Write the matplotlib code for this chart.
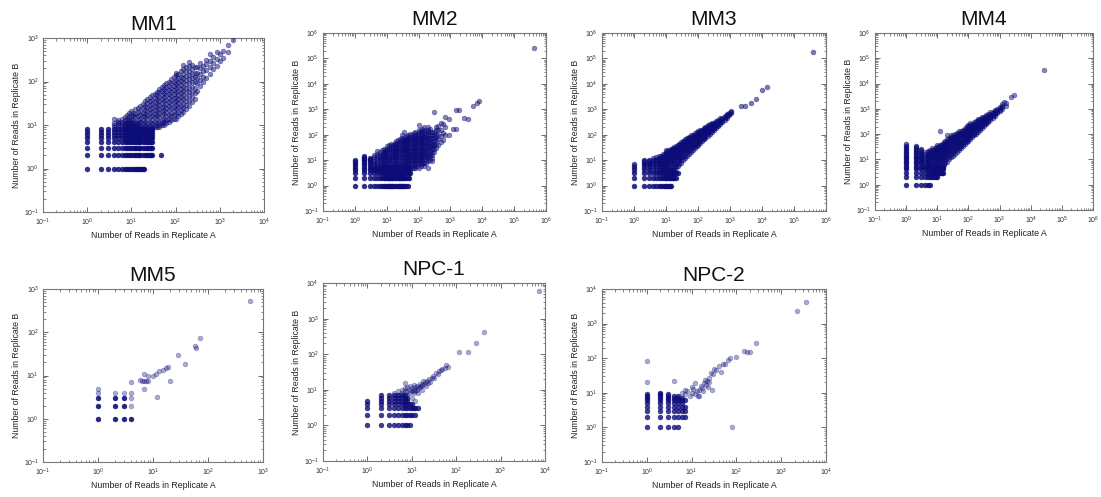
import numpy as np
import matplotlib
matplotlib.use("Agg")
import matplotlib.pyplot as plt
from matplotlib.ticker import LogLocator, NullFormatter

plt.rcParams['font.family'] = ['Liberation Sans', 'DejaVu Sans']
plt.rcParams['mathtext.default'] = 'regular'

# ---------------- data ----------------
panel_titles = ["MM1", "MM2", "MM3", "MM4", "MM5", "NPC-1", "NPC-2"]
panel_xlim_exp = [(-1, 4), (-1, 6), (-1, 6), (-1, 6), (-1, 3), (-1, 4), (-1, 4)]
panel_ylim_exp = [(-1, 3), (-1, 6), (-1, 6), (-1, 6), (-1, 3), (-1, 4), (-1, 4)]

# ---- MM1 ----
MM1_row_y = [1, 2, 3, 4, 5, 6, 7, 8]
MM1_row_x = [
    [1, 2, 3, 4, 5, 6, 7, 8, 9, 10, 11, 12, 13, 14, 15, 16, 17, 18, 19],
    [1, 2, 3, 4, 5, 6, 7, 8, 9, 10, 11, 12, 13, 14, 15, 16, 18, 20, 22, 24, 26, 28, 30, 46],
    [1, 2, 3, 4, 5, 6, 7, 8, 9, 10, 11, 12, 13, 14, 15, 16, 18, 20, 22, 24, 26, 28, 30],
    [1, 2, 3, 4, 5, 6, 7, 8, 9, 10, 11, 12, 13, 14, 15, 16, 18, 20, 22, 24, 26, 28, 30],
    [1, 2, 3, 4, 5, 6, 7, 8, 9, 10, 11, 12, 13, 14, 15, 16, 18, 20, 22, 24, 26, 28, 30],
    [1, 2, 3, 4, 5, 6, 7, 8, 9, 10, 11, 12, 13, 14, 15, 16, 18, 20, 22, 24, 26, 28, 30],
    [1, 2, 3, 4, 5, 6, 7, 8, 9, 10, 11, 12, 13, 14, 15, 16, 18, 20, 22, 24, 26, 28, 30],
    [1, 2, 3, 4, 5, 6, 7, 8, 9, 10, 11, 12, 13, 14, 15, 16, 18, 20, 22, 24, 26, 28, 30],
]
MM1_cloud_x = [4, 5, 6, 7, 8, 9, 10, 11, 12, 14, 16, 18, 20, 23, 26, 30, 34, 38, 43, 48,
               55, 62, 70, 80, 90, 100, 115, 130, 150, 170, 200, 230, 270, 310, 360, 420,
               500, 600, 700, 850, 1000, 1200, 1500, 2000]
MM1_cloud_y = [
    [9, 10, 11, 14], [9, 10, 11, 12, 13], [9, 10, 11, 12, 14], [9, 10, 11, 13, 15], [9, 10, 11, 12, 14, 17],
    [9, 10, 11, 13, 15, 19], [9, 10, 11, 12, 14, 17, 21], [9, 10, 11, 13, 16, 19], [9, 10, 11, 12, 15, 18, 23],
    [9, 10, 11, 13, 16, 20, 25], [9, 10, 12, 14, 17, 21, 28], [9, 11, 13, 16, 19, 24, 31],
    [9, 10, 12, 15, 18, 22, 27, 35], [9, 11, 14, 17, 21, 26, 32, 40],
    [9, 10, 12, 15, 19, 23, 29, 36, 44], [9, 11, 13, 16, 20, 25, 31, 38, 48],
    [9, 10, 12, 15, 18, 22, 27, 34, 42, 52], [9, 11, 14, 17, 21, 26, 32, 40, 50, 58],
    [9, 10, 12, 15, 19, 23, 29, 36, 45, 56, 66], [10, 11, 13, 17, 21, 26, 32, 40, 50, 62, 75],
    [10, 12, 14, 18, 22, 28, 35, 44, 55, 68, 82], [11, 13, 16, 20, 25, 31, 38, 48, 60, 74, 92],
    [12, 14, 17, 22, 27, 34, 42, 52, 65, 80, 100], [13, 16, 19, 24, 30, 37, 46, 58, 72, 90, 112],
    [14, 17, 21, 26, 33, 41, 51, 64, 80, 100, 125],
    [14, 18, 23, 29, 36, 45, 56, 70, 88, 110, 140, 160],
    [16, 20, 26, 32, 40, 50, 62, 78, 97, 120, 150],
    [18, 22, 28, 35, 44, 55, 68, 85, 105, 130, 170],
    [20, 25, 31, 39, 49, 61, 76, 95, 118, 148, 190, 240],
    [23, 29, 36, 45, 56, 70, 88, 110, 136, 170, 215],
    [28, 36, 46, 58, 72, 90, 112, 140, 175, 230, 280],
    [33, 45, 58, 75, 95, 120, 150, 195, 240],
    [40, 55, 72, 95, 125, 160, 210],
    [60, 90, 120, 160, 210], [80, 110, 150, 200, 260], [95, 130, 170, 230],
    [120, 180, 250, 320], [150, 220, 300, 440], [190, 260, 360], [230, 330, 480],
    [300, 420], [350, 500], [470, 700], [900],
]

# ---- MM2 ----
MM2_row_y = [1, 2, 3, 4, 5]
MM2_row_x = [
    [1, 2, 3, 4, 5, 6, 7, 8, 9, 10, 11, 12, 13, 14, 15, 16, 18, 20, 22, 24, 26, 28, 30, 33, 36, 40, 45],
    [1, 2, 3, 4, 5, 6, 7, 8, 9, 10, 11, 12, 13, 14, 15, 16, 18, 20, 22, 24, 26, 28, 30, 33, 36, 40, 45, 50],
    [1, 2, 3, 4, 5, 6, 7, 8, 9, 10, 11, 12, 13, 14, 15, 16, 18, 20, 22, 24, 26, 28, 30, 33, 36, 40, 45, 50, 55],
    [1, 2, 3, 4, 5, 6, 7, 8, 9, 10, 11, 12, 13, 14, 15, 16, 18, 20, 22, 24, 26, 28, 30, 33, 36, 40, 45, 50],
    [1, 2, 3, 4, 5, 6, 7, 8, 9, 10, 11, 12, 13, 14, 15, 16, 18, 20, 22, 24, 26, 28, 30, 33, 36, 40, 45, 50],
]
MM2_col_x = [1, 2, 3]
MM2_col_y = [[6, 7, 8, 9, 10], [6, 7, 8, 9, 10, 11, 12, 13, 15], [6, 7, 8, 9, 10, 11, 12]]
MM2_cloud_x = [4, 5, 6, 7, 8, 9, 10, 12, 14, 16, 18, 20, 23, 26, 30, 34, 38, 43, 48, 55, 62,
               70, 80, 90, 100, 115, 130, 150, 170, 200, 230, 270, 300, 350, 400, 500, 600,
               700, 900, 1200, 1500, 1900, 2600, 3500, 5000, 7000, 8000, 430000]
MM2_cloud_y = [
    [6, 7, 8, 9, 11, 13, 16], [6, 7, 8, 10, 12, 14, 18, 22], [6, 7, 9, 11, 13, 16, 20],
    [6, 8, 10, 12, 15, 18, 24], [6, 7, 9, 11, 14, 17, 21, 28], [6, 8, 10, 13, 16, 20, 25],
    [6, 7, 9, 11, 14, 17, 22, 28, 35], [6, 8, 10, 12, 15, 19, 24, 30, 38],
    [6, 7, 9, 11, 14, 18, 22, 28, 35, 44], [6, 8, 10, 13, 16, 20, 25, 32, 40],
    [6, 7, 9, 12, 15, 19, 24, 30, 38, 48], [6, 8, 10, 13, 17, 21, 26, 33, 42, 55],
    [6, 7, 9, 12, 15, 19, 24, 30, 38, 48, 60], [6, 8, 10, 13, 17, 21, 27, 34, 43, 55, 70],
    [6, 7, 9, 12, 15, 19, 24, 30, 38, 48, 60, 75, 95],
    [6, 8, 10, 13, 17, 22, 28, 35, 44, 56, 70, 130],
    [6, 7, 9, 12, 15, 19, 24, 31, 39, 50, 63, 80],
    [6, 8, 10, 13, 17, 21, 27, 34, 43, 55, 70, 88],
    [6, 7, 9, 11, 14, 18, 23, 29, 37, 47, 60, 76, 100],
    [4, 6, 8, 10, 13, 16, 20, 26, 33, 42, 53, 67, 85, 110],
    [5, 7, 9, 11, 14, 18, 23, 29, 37, 47, 60, 76, 96],
    [5, 6, 8, 10, 13, 16, 21, 26, 33, 42, 54, 68, 86, 120],
    [5, 7, 9, 12, 15, 19, 24, 30, 38, 48, 61, 77, 98, 130],
    [6, 8, 10, 13, 16, 21, 26, 33, 42, 53, 67, 85, 110],
    [5, 7, 9, 11, 14, 18, 23, 29, 37, 47, 60, 76, 96, 125, 160, 250],
    [6, 8, 10, 13, 16, 20, 26, 33, 42, 53, 67, 85, 110, 140],
    [7, 9, 12, 15, 19, 24, 30, 38, 48, 61, 77, 98, 125, 170],
    [6, 8, 11, 14, 17, 22, 28, 35, 44, 56, 71, 90, 115, 150, 200],
    [8, 10, 13, 16, 20, 26, 33, 42, 53, 67, 85, 110, 140],
    [5, 9, 12, 15, 19, 24, 30, 38, 48, 61, 77, 98, 125, 160, 200],
    [10, 14, 18, 23, 29, 37, 47, 60, 76, 96, 125, 170],
    [9, 12, 16, 21, 27, 35, 45, 58, 75, 95, 125],
    [20, 27, 35, 45, 58, 75, 95, 125, 750],
    [30, 45, 60, 80, 110, 150, 200], [40, 70, 100, 150, 220], [50, 90, 150, 300],
    [60, 120, 270], [95, 200, 500], [95, 400], [170], [170, 900], [900], [470], [400],
    [1350], [1800], [2100], [250000],
]

# ---- MM3 ----
MM3_row_y = [1, 2, 3]
MM3_row_x = [
    [1, 2, 3, 4, 5, 6, 7, 8, 9, 10, 11, 12, 13, 14],
    [1, 2, 3, 4, 5, 6, 7, 8, 9, 10, 11, 12, 13, 14, 15, 16, 18, 20],
    [1, 2, 3, 4, 5, 6, 7, 8, 9, 10, 11, 12, 13, 14, 15, 16, 18, 20, 23],
]
MM3_col_x = [1, 2, 3]
MM3_col_y = [[4, 5, 6, 7], [4, 5, 6, 7, 8, 9, 10], [4, 5, 6, 7, 8, 9, 10]]
MM3_cloud_x = [4, 5, 6, 7, 8, 9, 10, 11, 12, 14, 16, 18, 20, 23, 26, 30, 35, 40, 46, 53, 60,
               70, 80, 90, 100, 115, 130, 150, 170, 200, 230, 270, 310, 360, 420, 500, 580,
               680, 800, 950, 1100, 2200, 3000, 4500, 6500, 10000, 14000, 390000]
MM3_cloud_y = [
    [4, 5, 6, 7, 8, 9, 10, 12], [4, 5, 6, 7, 8, 9, 10, 11, 13], [4, 5, 6, 7, 8, 9, 10, 12, 14],
    [4, 5, 6, 7, 8, 9, 11, 13, 15], [4, 5, 6, 7, 8, 10, 12, 14, 17], [4, 5, 6, 7, 9, 11, 13, 15, 18],
    [4, 5, 6, 8, 10, 12, 14, 17, 20, 24], [4, 5, 7, 9, 11, 13, 16, 19, 22],
    [4, 5, 6, 8, 10, 12, 15, 18, 21, 25], [4, 5, 7, 9, 11, 14, 17, 20, 24, 28],
    [4, 6, 8, 10, 13, 16, 19, 23, 27, 31], [4, 5, 7, 9, 12, 15, 18, 22, 26, 32],
    [5, 6, 8, 11, 14, 17, 21, 25, 30, 36], [6, 8, 10, 13, 16, 20, 24, 29, 34, 40],
    [7, 9, 12, 15, 19, 23, 28, 33, 38, 45], [8, 10, 13, 17, 21, 26, 31, 37, 43, 50],
    [10, 13, 16, 20, 25, 30, 36, 43, 50, 58], [12, 15, 19, 24, 29, 35, 42, 49, 57, 66],
    [15, 19, 23, 28, 34, 40, 48, 56, 65, 75], [18, 22, 27, 33, 40, 47, 55, 64, 74, 85],
    [21, 26, 32, 38, 46, 54, 63, 73, 84, 96], [26, 32, 39, 46, 55, 65, 75, 87, 100],
    [30, 37, 45, 53, 63, 74, 86, 99, 113], [35, 42, 50, 60, 71, 83, 96, 110, 125],
    [40, 47, 56, 67, 79, 92, 106, 121, 140], [47, 56, 66, 78, 91, 106, 122, 140, 160],
    [55, 65, 77, 90, 105, 121, 140, 160], [65, 77, 90, 105, 122, 140, 160, 185],
    [76, 89, 104, 121, 140, 161, 185, 210], [92, 107, 125, 145, 168, 193, 220, 250],
    [110, 127, 147, 170, 195, 222, 255], [130, 150, 173, 200, 228, 260, 295],
    [155, 178, 204, 233, 265, 300], [185, 212, 242, 275, 310, 350], [220, 250, 284, 322, 365],
    [270, 305, 345, 390, 440], [320, 360, 405, 455], [390, 435, 490, 550], [470, 530, 600, 660],
    [580, 650, 730], [700, 760, 820], [1300], [1350], [1700], [2500], [5500], [7400], [180000],
]

# ---- MM4 ----
MM4_row_y = [1, 2, 3, 4, 5]
MM4_row_x = [
    [1, 2, 3, 4, 5, 6],
    [1, 2, 3, 4, 5, 6, 7, 8, 9, 10],
    [1, 2, 3, 4, 5, 6, 7, 8, 9, 10, 11, 12, 13, 14, 15],
    [1, 2, 3, 4, 5, 6, 7, 8, 9, 10, 11, 12, 13, 14, 15],
    [1, 2, 3, 4, 5, 6, 7, 8, 9, 10, 11, 12, 13, 14, 15],
]
MM4_col_x = [1, 2, 3]
MM4_col_y = [[6, 7, 8, 9, 10, 11, 12, 14, 16, 18, 20, 23, 26, 30, 35, 40],
             [6, 7, 8, 9, 10, 11, 12, 14, 16, 18, 20, 23, 26, 30, 33],
             [6, 7, 8, 9, 10, 11, 12, 14, 16, 18, 20, 23, 25]]
MM4_cloud_x = [4, 5, 6, 7, 8, 9, 10, 11, 12, 14, 16, 18, 21, 24, 28, 32, 37, 43, 50, 58, 67,
               77, 90, 100, 115, 130, 150, 170, 200, 230, 270, 310, 360, 420, 500, 600, 700,
               850, 1000, 1200, 1400, 1600, 2300, 3000, 27000]
MM4_cloud_y = [
    [6, 7, 8, 9, 10, 12, 14, 17, 20], [6, 7, 8, 9, 10, 12, 14, 16, 19, 22],
    [6, 7, 8, 10, 12, 14, 16, 19, 23], [6, 8, 10, 12, 14, 17, 20, 24, 28],
    [6, 7, 9, 11, 13, 16, 19, 23, 27], [4, 5, 6, 8, 10, 12, 15, 18, 21, 25, 30],
    [3, 4, 6, 8, 10, 12, 15, 18, 22, 26, 31, 36], [4, 5, 7, 9, 11, 14, 17, 20, 24, 29, 34],
    [4, 6, 8, 10, 12, 15, 18, 22, 26, 31, 37, 135], [5, 7, 9, 11, 14, 17, 21, 25, 30, 36, 42],
    [6, 8, 10, 13, 16, 20, 24, 29, 35, 42, 50], [7, 9, 12, 15, 18, 22, 27, 32, 38, 46, 55],
    [8, 11, 14, 17, 21, 26, 31, 37, 44, 53, 62, 95], [10, 13, 16, 20, 24, 29, 35, 42, 50, 60, 70],
    [12, 15, 19, 23, 28, 34, 40, 48, 57, 68, 80, 90], [14, 18, 22, 27, 32, 39, 46, 55, 65, 77, 90],
    [17, 21, 26, 31, 38, 45, 53, 63, 74, 87, 100], [20, 25, 30, 36, 43, 51, 61, 72, 85, 100, 115],
    [24, 29, 35, 42, 50, 60, 71, 84, 99, 115, 130], [29, 35, 42, 50, 59, 70, 83, 97, 114, 133],
    [35, 42, 50, 59, 70, 82, 96, 112, 130, 152], [42, 50, 59, 70, 82, 96, 112, 131, 152, 175],
    [50, 59, 70, 82, 96, 112, 131, 152, 177, 205], [56, 66, 78, 92, 108, 126, 147, 171, 198, 230],
    [66, 78, 92, 108, 126, 147, 171, 198, 230, 265], [77, 90, 105, 123, 144, 167, 194, 225, 260],
    [90, 105, 123, 144, 168, 195, 226, 262, 300], [104, 121, 141, 164, 191, 221, 256, 296, 345],
    [125, 146, 170, 197, 228, 264, 305, 352, 400], [148, 172, 199, 230, 266, 307, 354, 410],
    [178, 206, 238, 275, 317, 365, 420, 480], [210, 242, 279, 321, 369, 424, 490],
    [250, 288, 331, 380, 436, 500, 570], [300, 345, 396, 453, 520, 600],
    [365, 418, 478, 547, 625, 720], [450, 515, 588, 670, 765], [540, 615, 700, 800, 900],
    [680, 780, 890, 1000], [820, 940, 1070, 1200], [1000, 1150, 1300, 1500], [1800],
    [1300, 1700], [2900], [3400], [33000],
]

# ---- MM5 ----
MM5_dark_x = [1, 1, 1, 2, 2, 2, 3, 3, 3, 4]
MM5_dark_y = [1, 2, 3, 1, 2, 3, 1, 2, 3, 1]
MM5_light_x = [1, 1, 2, 3, 4, 4, 4, 4, 5.7, 6.2, 6.8, 7.5, 8.1, 6.8, 6.8, 8.1, 10, 11.5, 13, 15,
               17.5, 18.7, 20.6, 11.8, 29, 38, 57, 61, 73, 570]
MM5_light_y = [4, 5, 4, 4, 2, 3, 4, 7, 7.9, 7.5, 7.4, 7.6, 7.3, 11, 5, 9.5, 9.5, 11, 12.5, 13.7,
               14.7, 15.5, 7.5, 3.2, 30, 18.6, 49, 44, 74, 520]

# ---- NPC-1 ----
NPC1_row_y = [1, 2, 3, 4, 5, 6, 7]
NPC1_row_x = [
    [1, 2, 3, 4, 5, 6, 7, 8, 9],
    [1, 2, 3, 4, 5, 6, 7, 8, 9, 10, 12],
    [1, 2, 3, 4, 5, 6, 7, 8, 9, 10, 11, 12, 14],
    [1, 2, 3, 4, 5, 6, 7, 8, 9, 10],
    [1, 2, 3, 4, 5, 6, 7, 8],
    [2, 3, 4, 5, 6, 7, 8],
    [2, 3, 4, 5, 6, 7],
]
NPC1_cloud_x = [4, 5, 5, 6, 6, 7, 7, 7, 8, 8, 8, 9, 9, 9, 10, 10, 10, 11, 11, 11, 12, 12, 12,
                13, 13, 14, 14, 15, 15, 16, 17, 17, 18, 19, 20, 21, 22, 23, 25, 26, 28, 30,
                32, 35, 38, 40, 45, 48, 55, 60, 65, 115, 180, 280, 430, 7500]
NPC1_cloud_y = [8, 7, 9, 8, 10, 9, 11, 16, 7, 9, 12, 8, 10, 13, 6, 9, 11, 8, 10, 14, 9, 12, 5,
                10, 13, 11, 8, 15, 12, 13, 10, 14, 18, 15, 17, 13, 18, 16, 20, 17, 22, 25,
                22, 30, 27, 33, 35, 38, 40, 50, 45, 115, 115, 210, 410, 6000]

# ---- NPC-2 ----
NPC2_row_y = [1, 2, 3, 4, 5, 6, 7, 8, 9, 10]
NPC2_row_x = [
    [1, 2, 3, 4, 5],
    [1, 2, 3, 4, 5, 6, 7],
    [1, 2, 3, 4, 5, 6, 7],
    [1, 2, 3, 4, 5, 6, 7],
    [1, 2, 3, 4, 5, 6],
    [1, 2, 3, 4, 5, 6, 7],
    [1, 2, 3, 4, 5, 6],
    [1, 2, 3, 4, 5],
    [1, 2, 3],
    [2],
]
NPC2_cloud_x = [1, 1, 4, 6, 7, 7, 8, 9, 10, 10, 11, 12, 12, 13, 14, 15, 15, 16, 17, 18, 19, 20,
                21, 22, 23, 24, 25, 27, 28, 30, 32, 35, 40, 45, 50, 55, 65, 72, 80, 100, 150,
                170, 200, 270, 2200, 3500]
NPC2_cloud_y = [20, 85, 22, 10, 12, 9, 11, 8, 15, 10, 13, 19, 9, 11, 8, 12, 8, 16, 14, 11, 19,
                24, 17, 22, 15, 20, 27, 38, 12, 36, 50, 45, 60, 40, 70, 68, 90, 100, 1, 110, 160,
                155, 150, 280, 2300, 4300]

# ---------------- helpers ----------------
def expand_rows(row_y, row_x):
    xs, ys = [], []
    for y, xl in zip(row_y, row_x):
        xs += list(xl)
        ys += [y] * len(xl)
    return xs, ys

def expand_cols(col_x, col_y):
    xs, ys = [], []
    for x, yl in zip(col_x, col_y):
        xs += [x] * len(yl)
        ys += list(yl)
    return xs, ys

NAVY = '#0c0c78'

def style_axes(ax, title, xl, yl):
    ax.set_xscale('log')
    ax.set_yscale('log')
    ax.set_xlim(10.0 ** xl[0], 10.0 ** xl[1])
    ax.set_ylim(10.0 ** yl[0], 10.0 ** yl[1])
    for axis in (ax.xaxis, ax.yaxis):
        axis.set_major_locator(LogLocator(base=10, numticks=20))
        axis.set_minor_locator(LogLocator(base=10, subs=np.arange(2, 10), numticks=100))
        axis.set_minor_formatter(NullFormatter())
    ax.tick_params(which='both', direction='in', top=True, right=True,
                   colors='#555555', labelcolor='#333333', labelsize=5)
    ax.tick_params(axis='x', pad=3.5)
    ax.tick_params(axis='y', pad=3)
    ax.tick_params(which='major', length=3.5, width=0.6)
    ax.tick_params(which='minor', length=1.8, width=0.5)
    for sp in ax.spines.values():
        sp.set_color('#777777')
        sp.set_linewidth(0.8)
    ax.set_title(title, fontsize=15, pad=6, color='#111111')
    ax.set_xlabel("Number of Reads in Replicate A", fontsize=6.3, labelpad=2, color='#222222')
    ax.set_ylabel("Number of Reads in Replicate B", fontsize=6.3, labelpad=2, color='#222222')

def scat(ax, xs, ys, alpha):
    ax.scatter(xs, ys, s=12, c=NAVY, alpha=alpha, edgecolors=NAVY, linewidths=0.4, zorder=3)

# ---------------- figure ----------------
fig = plt.figure(figsize=(11.01, 4.97), dpi=100)
W, H = 1101.0, 497.0
boxes = [(43, 38, 264, 212), (323, 33, 546, 211), (602, 33, 826, 211), (875, 33, 1093, 210),
         (43, 289, 263, 462), (323, 283, 545, 461), (602, 289, 826, 462)]
axes = []
for (l, t, r, b) in boxes:
    axes.append(fig.add_axes([l / W, 1 - b / H, (r - l) / W, (b - t) / H]))

# MM1
ax = axes[0]
x, y = expand_rows(MM1_row_y, MM1_row_x); scat(ax, x, y, 0.85)
x, y = expand_cols(MM1_cloud_x, MM1_cloud_y); scat(ax, x, y, 0.5)
# MM2
ax = axes[1]
x, y = expand_rows(MM2_row_y, MM2_row_x); scat(ax, x, y, 0.85)
x, y = expand_cols(MM2_col_x, MM2_col_y); scat(ax, x, y, 0.7)
x, y = expand_cols(MM2_cloud_x, MM2_cloud_y); scat(ax, x, y, 0.5)
# MM3
ax = axes[2]
x, y = expand_rows(MM3_row_y, MM3_row_x); scat(ax, x, y, 0.85)
x, y = expand_cols(MM3_col_x, MM3_col_y); scat(ax, x, y, 0.7)
x, y = expand_cols(MM3_cloud_x, MM3_cloud_y); scat(ax, x, y, 0.55)
# MM4
ax = axes[3]
x, y = expand_rows(MM4_row_y, MM4_row_x); scat(ax, x, y, 0.85)
x, y = expand_cols(MM4_col_x, MM4_col_y); scat(ax, x, y, 0.65)
x, y = expand_cols(MM4_cloud_x, MM4_cloud_y); scat(ax, x, y, 0.5)
# MM5
ax = axes[4]
scat(ax, MM5_dark_x, MM5_dark_y, 0.9)
scat(ax, MM5_light_x, MM5_light_y, 0.35)
# NPC-1
ax = axes[5]
x, y = expand_rows(NPC1_row_y, NPC1_row_x); scat(ax, x, y, 0.8)
scat(ax, NPC1_cloud_x, NPC1_cloud_y, 0.35)
# NPC-2
ax = axes[6]
x, y = expand_rows(NPC2_row_y, NPC2_row_x); scat(ax, x, y, 0.8)
scat(ax, NPC2_cloud_x, NPC2_cloud_y, 0.35)

for ax, t, xl, yl in zip(axes, panel_titles, panel_xlim_exp, panel_ylim_exp):
    style_axes(ax, t, xl, yl)

fig.savefig("out.png", dpi=100)
